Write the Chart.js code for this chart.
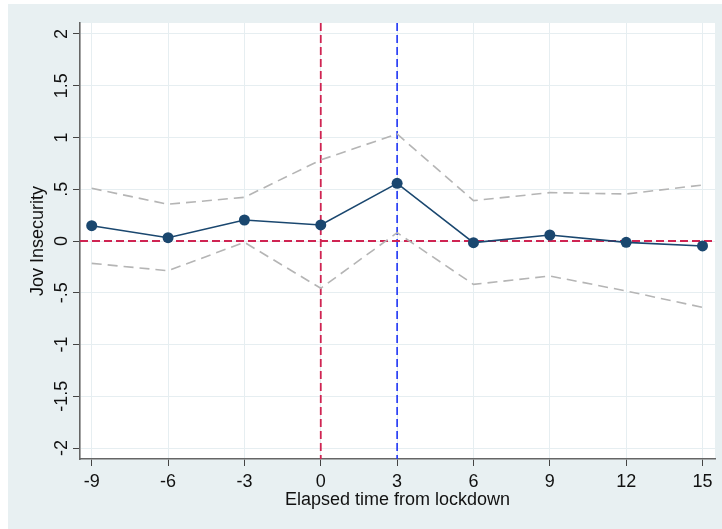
<!DOCTYPE html>
<html>
<head>
<meta charset="utf-8">
<script src="https://cdn.jsdelivr.net/npm/chart.js@4.4.1/dist/chart.umd.min.js"></script>
<style>
  html, body { margin: 0; padding: 0; background: #fff; }
  #chart { display: block; }
</style>
</head>
<body>
<canvas id="chart" width="722" height="529"></canvas>
<script>
// Event-study estimates
const ELAPSED = [-9, -6, -3, 0, 3, 6, 9, 12, 15];
const ESTIMATE = [0.148, 0.032, 0.203, 0.155, 0.557, -0.016, 0.058, -0.013, -0.048];
const UPPER_CI = [0.509, 0.355, 0.422, 0.783, 1.034, 0.390, 0.467, 0.454, 0.541];
const LOWER_CI = [-0.216, -0.287, -0.013, -0.457, 0.080, -0.419, -0.338, -0.483, -0.641];

// Axis ticks
const X_TICKS = [-9, -6, -3, 0, 3, 6, 9, 12, 15];
const Y_TICKS = [2, 1.5, 1, 0.5, 0, -0.5, -1, -1.5, -2];
const Y_LABELS = ["2", "1.5", "1", ".5", "0", "-.5", "-1", "-1.5", "-2"];

// Reference lines (lockdown at 0, treatment at 3, zero effect)
const V_LINES = [0, 3];
const H_LINES = [0];

const X_TITLE = "Elapsed time from lockdown";
const Y_TITLE = "Jov Insecurity";

const FONT = "'Liberation Sans', Arial, sans-serif";
const PANEL = "#e8f0f2";
const GRID = "#e6eef1";

const toPoints = arr => ELAPSED.map((x, i) => ({ x: x, y: arr[i] }));

// ===== background panel + white plot region =====
const panelPlugin = {
  id: "panel",
  beforeDraw(chart) {
    const { ctx, chartArea: a } = chart;
    ctx.save();
    ctx.fillStyle = "#fff";
    ctx.fillRect(0, 0, chart.width, chart.height);
    ctx.fillStyle = PANEL;
    ctx.fillRect(8, 4, chart.width - 8, chart.height - 4);
    ctx.fillStyle = "#fff";
    ctx.fillRect(a.left, a.top, a.right - a.left, a.bottom - a.top);
    ctx.restore();
  }
};

// ===== reference lines, drawn under the series =====
const refLinesPlugin = {
  id: "refLines",
  beforeDatasetsDraw(chart) {
    const { ctx, chartArea: a, scales: { x, y } } = chart;
    ctx.save();
    V_LINES.forEach((v, i) => {
      const px = x.getPixelForValue(v);
      ctx.beginPath();
      ctx.strokeStyle = i === 0 ? "#cf2452" : "#1f35f5";
      ctx.lineWidth = i === 0 ? 1.8 : 1.6;
      ctx.setLineDash([8, 4]);
      ctx.moveTo(px, a.top);
      ctx.lineTo(px, a.bottom);
      ctx.stroke();
    });
    H_LINES.forEach(v => {
      const py = y.getPixelForValue(v);
      ctx.beginPath();
      ctx.strokeStyle = "#cf2452";
      ctx.lineWidth = 1.8;
      ctx.setLineDash([8, 4]);
      ctx.moveTo(a.left, py);
      ctx.lineTo(a.right, py);
      ctx.stroke();
    });
    ctx.restore();
  }
};

// ===== rotated y tick labels (Stata style) =====
const yLabelsPlugin = {
  id: "yLabels",
  afterDraw(chart) {
    const { ctx, scales: { y } } = chart;
    ctx.save();
    ctx.fillStyle = "#111";
    ctx.font = "18px " + FONT;
    ctx.textAlign = "center";
    ctx.textBaseline = "alphabetic";
    Y_TICKS.forEach((v, i) => {
      const py = y.getPixelForValue(v);
      ctx.save();
      ctx.translate(67, py);
      ctx.rotate(-Math.PI / 2);
      ctx.fillText(Y_LABELS[i], 0, 0);
      ctx.restore();
    });
    ctx.restore();
  }
};

new Chart(document.getElementById("chart").getContext("2d"), {
  type: "line",
  data: {
    datasets: [
      {
        label: "Upper CI",
        data: toPoints(UPPER_CI),
        borderColor: "#b5b5b5",
        borderWidth: 1.6,
        borderDash: [10, 6],
        pointRadius: 0,
        fill: false,
        tension: 0
      },
      {
        label: "Lower CI",
        data: toPoints(LOWER_CI),
        borderColor: "#b5b5b5",
        borderWidth: 1.6,
        borderDash: [10, 6],
        pointRadius: 0,
        fill: false,
        tension: 0
      },
      {
        label: "Estimate",
        data: toPoints(ESTIMATE),
        borderColor: "#1a476f",
        backgroundColor: "#1a476f",
        borderWidth: 1.6,
        pointRadius: 5.5,
        pointBorderWidth: 0,
        pointBackgroundColor: "#1a476f",
        fill: false,
        tension: 0
      }
    ]
  },
  options: {
    responsive: false,
    devicePixelRatio: 1,
    animation: false,
    layout: { padding: { top: 23, right: 7, left: 0, bottom: 0 } },
    plugins: {
      legend: { display: false },
      tooltip: { enabled: false },
      title: { display: false }
    },
    scales: {
      x: {
        type: "linear",
        min: -9.46,
        max: 15.49,
        afterBuildTicks: s => { s.ticks = X_TICKS.map(v => ({ value: v })); },
        afterFit: s => { s.height = 70; },
        grid: { color: GRID, lineWidth: 1, tickColor: "#444", tickLength: 7, drawTicks: true },
        border: { color: "#666", width: 1.6 },
        ticks: {
          color: "#111",
          padding: 5,
          maxRotation: 0,
          font: { family: FONT, size: 18 },
          callback: v => String(v)
        },
        title: {
          display: true,
          text: X_TITLE,
          color: "#111",
          font: { family: FONT, size: 18 },
          padding: { top: 0, bottom: 18 }
        }
      },
      y: {
        type: "linear",
        min: -2.106,
        max: 2.106,
        afterBuildTicks: s => { s.ticks = Y_TICKS.map(v => ({ value: v })); },
        afterFit: s => { s.width = 80; },
        grid: { color: GRID, lineWidth: 1, tickColor: "#444", tickLength: 7, drawTicks: true },
        border: { color: "#666", width: 1.6 },
        ticks: { display: false },
        title: {
          display: true,
          text: Y_TITLE,
          color: "#111",
          font: { family: FONT, size: 18 },
          padding: { top: 27, bottom: 0 }
        }
      }
    }
  },
  plugins: [panelPlugin, refLinesPlugin, yLabelsPlugin]
});
</script>
</body>
</html>
